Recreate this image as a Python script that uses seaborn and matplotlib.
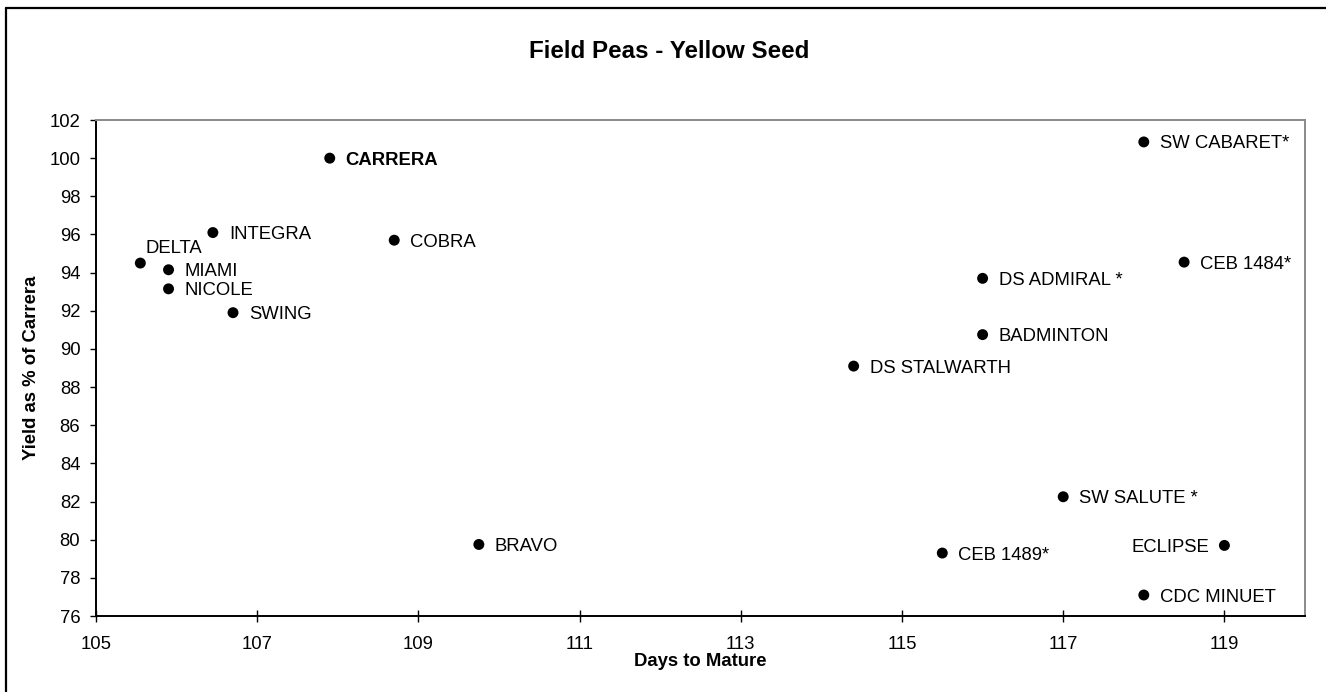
import matplotlib
matplotlib.use("Agg")
import matplotlib.pyplot as plt
from matplotlib.lines import Line2D
import seaborn as sns
import pandas as pd

# ---- data ----
varieties = ["CARRERA", "INTEGRA", "COBRA", "DELTA", "MIAMI", "NICOLE", "SWING",
             "BRAVO", "DS STALWARTH", "BADMINTON", "DS ADMIRAL *", "SW CABARET*",
             "CEB 1484*", "SW SALUTE *", "CEB 1489*", "ECLIPSE", "CDC MINUET"]
days_to_mature = [107.9, 106.45, 108.7, 105.55, 105.9, 105.9, 106.7,
                  109.75, 114.4, 116.0, 116.0, 118.0,
                  118.5, 117.0, 115.5, 119.0, 118.0]
yield_pct = [100.0, 96.1, 95.7, 94.5, 94.15, 93.15, 91.9,
             79.75, 89.1, 90.75, 93.7, 100.85,
             94.55, 82.25, 79.3, 79.7, 77.1]
x_ticks = [105, 107, 109, 111, 113, 115, 117, 119]
y_ticks = list(range(76, 103, 2))

df = pd.DataFrame({"variety": varieties, "days": days_to_mature, "yield": yield_pct})

sns.set_theme(style="white")
plt.rcParams["font.family"] = ["Liberation Sans", "DejaVu Sans"]

W, H = 1326, 692
fig = plt.figure(figsize=(W / 100, H / 100), dpi=100)
fig.patch.set_facecolor("white")
ax = fig.add_axes([96 / W, 1 - 616 / H, (1305 - 96) / W, (616 - 120) / H])

sns.scatterplot(data=df, x="days", y="yield", ax=ax, color="black", s=62,
                edgecolor="none", linewidth=0, legend=False, zorder=3)

ax.set_xlim(105, 120)
ax.set_ylim(76, 102)
ax.set_xticks(x_ticks)
ax.set_yticks(y_ticks)
ax.set_xticklabels([str(t) for t in x_ticks])
ax.set_yticklabels([str(t) for t in y_ticks])

fs = 13.3
ax.tick_params(axis="y", direction="out", length=4.3, width=1, color="black",
               pad=7, labelsize=fs, labelcolor="black", left=True)
ax.tick_params(axis="x", direction="inout", length=8.6, width=1, color="black",
               pad=10, labelsize=fs, labelcolor="black", bottom=True)

for side in ["left", "bottom"]:
    ax.spines[side].set_color("black")
    ax.spines[side].set_linewidth(1.4)
for side in ["top", "right"]:
    ax.spines[side].set_color("#8a8a8a")
    ax.spines[side].set_linewidth(1.4)
ax.grid(False)

ax.set_xlabel("Days to Mature", fontsize=fs, fontweight="bold", color="black")
ax.set_ylabel("Yield as % of Carrera", fontsize=fs, fontweight="bold", color="black")
ax.xaxis.set_label_coords(0.5, (616 - 653) / 496)
ax.yaxis.set_label_coords((40 - 96) / 1209, 0.5)

# point labels
offsets = {"DELTA": (3.6, 12.0, "left"), "ECLIPSE": (-11.2, 0.0, "right")}
for name, xv, yv in zip(varieties, days_to_mature, yield_pct):
    dx, dy, ha = offsets.get(name, (11.5, 0.0, "left"))
    ax.annotate(name, (xv, yv), xytext=(dx, dy), textcoords="offset points",
                ha=ha, va="center_baseline", fontsize=fs, color="black",
                fontweight="bold" if name == "CARRERA" else "normal")

fig.text(0.505, 1 - 52 / H, "Field Peas - Yellow Seed", ha="center", va="center",
         fontsize=17.4, fontweight="bold", color="black")

# outer frame (top and left edges)
fig.add_artist(Line2D([6 / W, 1], [1 - 8 / H, 1 - 8 / H], transform=fig.transFigure,
                      color="black", linewidth=1.6))
fig.add_artist(Line2D([6 / W, 6 / W], [0, 1 - 8 / H], transform=fig.transFigure,
                      color="black", linewidth=1.6))

fig.savefig("out.png", dpi=100, facecolor="white")
